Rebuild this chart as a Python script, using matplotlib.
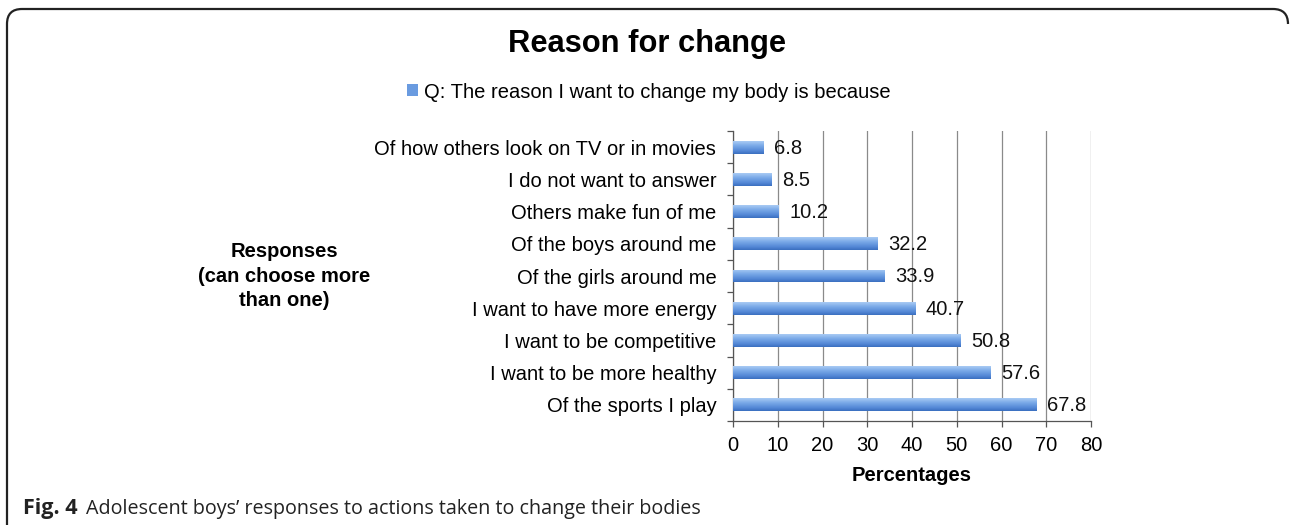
import numpy as np
import matplotlib
matplotlib.use("Agg")
import matplotlib.pyplot as plt
from matplotlib.patches import Patch
from matplotlib.path import Path
from matplotlib.patches import PathPatch
from matplotlib.colors import LinearSegmentedColormap

plt.rcParams['font.family'] = ['Liberation Sans', 'DejaVu Sans']

categories = [
    "Of how others look on TV or in movies",
    "I do not want to answer",
    "Others make fun of me",
    "Of the boys around me",
    "Of the girls around me",
    "I want to have more energy",
    "I want to be competitive",
    "I want to be more healthy",
    "Of the sports I play",
]
values = [6.8, 8.5, 10.2, 32.2, 33.9, 40.7, 50.8, 57.6, 67.8]
xticks = [0, 10, 20, 30, 40, 50, 60, 70, 80]

title = "Reason for change"
legend_label = "Q: The reason I want to change my body is because"
ylabel = "Responses\n(can choose more\nthan one)"
xlabel = "Percentages"

W, H = 1290, 525
FS = 14.5
fig = plt.figure(figsize=(W / 100, H / 100), dpi=100)

# frame overlay
bg = fig.add_axes([0, 0, 1, 1], zorder=0)
bg.set_xlim(0, W)
bg.set_ylim(H, 0)
bg.axis('off')
r = 15
verts = [(7, H + 5), (7, 9 + r), (7, 9), (7 + r, 9), (1288 - r, 9), (1288, 9), (1288, 9 + r)]
codes = [Path.MOVETO, Path.LINETO, Path.CURVE3, Path.CURVE3, Path.LINETO, Path.CURVE3, Path.CURVE3]
bg.add_patch(PathPatch(Path(verts, codes), fill=False, lw=1.6, edgecolor='#222222'))

ax = fig.add_axes([733 / W, 1 - 421 / H, (1091 - 733) / W, (421 - 131) / H], zorder=1)
y = np.arange(len(categories))
bars = ax.barh(y, values, height=0.4, color='#5f93dc', zorder=3)

cmap = LinearSegmentedColormap.from_list(
    'g', [(0.0, '#a9cbf4'), (0.35, '#7aaae8'), (0.75, '#5488d6'), (1.0, '#3a6fc0')])
grad = np.linspace(0, 1, 64).reshape(-1, 1)
for b in bars:
    x0, y0, w, h = b.get_x(), b.get_y(), b.get_width(), b.get_height()
    im = ax.imshow(grad, cmap=cmap, aspect='auto', extent=(x0, x0 + w, y0 + h, y0),
                   origin='upper', zorder=4, interpolation='bilinear')
    im.set_clip_path(b)

for yi, v in zip(y, values):
    ax.text(v + 2.4, yi + 0.03, f"{v}", va='center', ha='left', fontsize=FS, color='#111111', zorder=5)

ax.set_xlim(0, 80)
ax.set_ylim(len(categories) - 0.5, -0.5)
ax.set_xticks(xticks)
ax.set_xticklabels([str(t) for t in xticks], fontsize=FS)
ax.set_yticks(y)
ax.set_yticklabels(categories, fontsize=FS)
ax.set_yticks(np.arange(-0.5, len(categories), 1), minor=True)
ax.tick_params(axis='y', which='major', length=0, pad=12)
ax.tick_params(axis='y', which='minor', length=4, width=0.9, color='#555555', direction='out')
ax.tick_params(axis='x', which='major', length=4, width=0.9, color='#555555', direction='out', pad=7)
ax.grid(axis='x', color='#8a8a8a', lw=0.9, zorder=0)
ax.set_axisbelow(True)
for s in ['top', 'right']:
    ax.spines[s].set_visible(False)
for s in ['left', 'bottom']:
    ax.spines[s].set_color('#555555')
    ax.spines[s].set_linewidth(0.9)
ax.set_xlabel(xlabel, fontsize=FS, fontweight='bold', labelpad=8)
ax.patch.set_alpha(0)

fig.text(647 / W, 1 - 44 / H, title, ha='center', va='center', fontsize=22.2, fontweight='bold')
fig.text(284 / W, 1 - 276 / H, ylabel, ha='center', va='center', fontsize=FS,
         fontweight='bold', linespacing=1.35)

leg = fig.legend(handles=[Patch(facecolor='#6a9be0', edgecolor='none')], labels=[legend_label],
                 loc='center', bbox_to_anchor=(649 / W, 1 - 92 / H), frameon=False, fontsize=FS,
                 handlelength=0.55, handleheight=0.55, handletextpad=0.3)

fig.text(23 / W, 1 - 514 / H, "Fig. 4", ha='left', va='baseline', fontsize=15.5,
         fontweight='bold', family=['Open Sans', 'DejaVu Sans'], color='#222222')
fig.text(86 / W, 1 - 514 / H, "Adolescent boys\u2019 responses to actions taken to change their bodies",
         ha='left', va='baseline', fontsize=14.2, family=['Open Sans', 'DejaVu Sans'], color='#222222')

fig.savefig("out.png", dpi=100)
